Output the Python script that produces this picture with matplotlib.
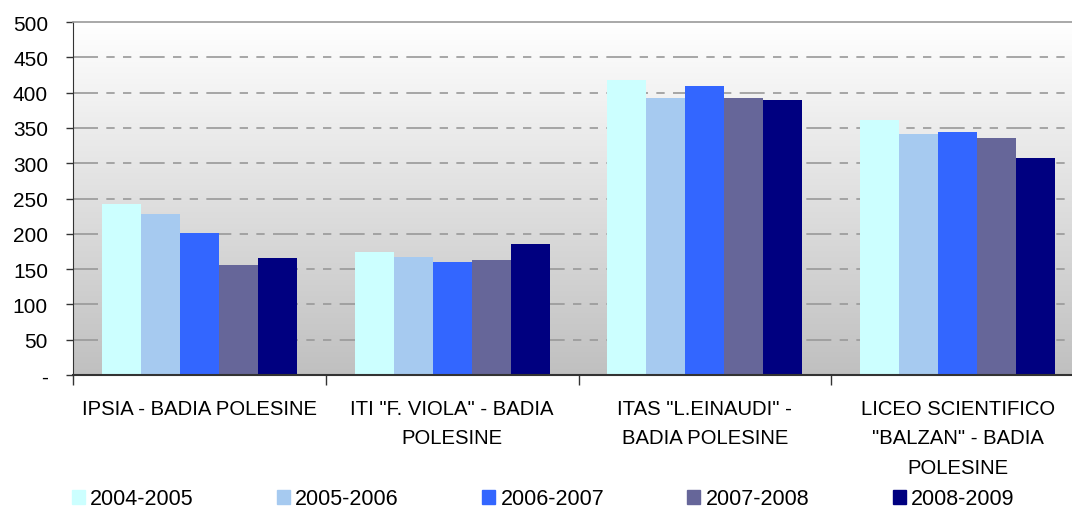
import numpy as np
import matplotlib.pyplot as plt
from matplotlib.colors import LinearSegmentedColormap
from matplotlib.patches import Rectangle

plt.rcParams['font.family'] = ['Liberation Sans', 'DejaVu Sans']

# Data
categories = ['IPSIA - BADIA POLESINE',
              'ITI "F. VIOLA" - BADIA\nPOLESINE',
              'ITAS "L.EINAUDI" -\nBADIA POLESINE',
              'LICEO SCIENTIFICO\n"BALZAN" - BADIA\nPOLESINE']
years = ['2004-2005', '2005-2006', '2006-2007', '2007-2008', '2008-2009']
v_2004 = [242, 174, 418, 361]
v_2005 = [228, 167, 392, 341]
v_2006 = [201, 160, 409, 344]
v_2007 = [156, 163, 392, 336]
v_2008 = [166, 185, 390, 307]
series = [v_2004, v_2005, v_2006, v_2007, v_2008]
colours = ['#CCFFFF', '#A6CAF0', '#3366FF', '#666699', '#000080']
yticks = [0, 50, 100, 150, 200, 250, 300, 350, 400, 450, 500]
ylabels = ['-'] + [str(t) for t in yticks[1:]]

W, H = 1072, 510
fig = plt.figure(figsize=(W / 100, H / 100), dpi=100)
ax = fig.add_axes([73 / W, (H - 376) / H, 1011 / W, 353 / H])

n = len(categories)
ax.set_xlim(0, n)
ax.set_ylim(0, 500)

# Gradient background, white at top to grey at bottom
cmap = LinearSegmentedColormap.from_list('bg', ['#C0C0C0', '#FFFFFF'])
grad = np.linspace(0, 1, 256).reshape(-1, 1)
ax.imshow(grad, cmap=cmap, aspect='auto', extent=[0, n, 0, 500],
          origin='lower', zorder=0)

# Dashed gridlines (long - short - short)
for t in yticks[1:-1]:
    ax.axhline(t, color='#999999', lw=1.2, dashes=(15, 5, 5, 5, 5, 5), zorder=1)

# Bars
bw = 0.1545
x = np.arange(n) + 0.5
for j, (vals, c, lab) in enumerate(zip(series, colours, years)):
    ax.bar(x + (j - 2) * bw, vals, width=bw, color=c, label=lab, zorder=2)

# Axes styling
ax.spines['right'].set_visible(False)
ax.spines['top'].set_color('#999999')
ax.spines['top'].set_linewidth(1.2)
ax.spines['left'].set_color('#333333')
ax.spines['bottom'].set_color('#333333')
ax.spines['bottom'].set_linewidth(1.5)

ax.set_yticks(yticks)
ax.set_yticklabels(ylabels, fontsize=15)
ax.tick_params(axis='y', length=5, width=1, color='#333333', pad=13)

ax.set_xticks(x)
ax.set_xticklabels(categories, fontsize=14.6, linespacing=1.7, va='top')
ax.tick_params(axis='x', which='major', length=0, pad=17)
ax.set_xticks(np.arange(n + 1), minor=True)
ax.tick_params(axis='x', which='minor', length=7, width=1, color='#333333')

# Legend
handles = [Rectangle((0, 0), 1, 1, color=c) for c in colours]
fig.legend(handles, years, loc='center left', bbox_to_anchor=(63 / W, 1 - 500 / H),
           ncol=5, frameon=False, fontsize=15.5, handlelength=0.6, handleheight=0.6,
           handletextpad=0.25, columnspacing=3.87, borderaxespad=0)

fig.savefig('out.png', dpi=100)
